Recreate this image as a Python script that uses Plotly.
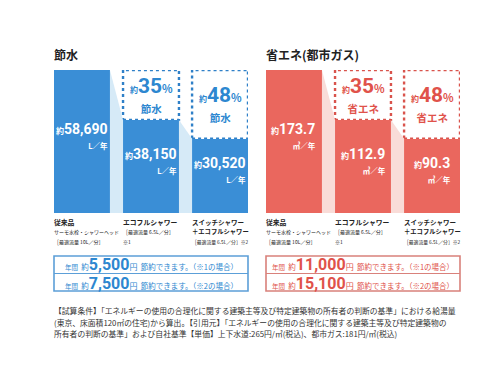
import plotly.graph_objects as go

W, H = 500, 375
FONT = "Noto Sans CJK JP"
NUMFONT = "Roboto"

# ---------------- data ----------------
categories = ["従来品", "エコフルシャワー", "スイッチシャワー＋エコフルシャワー"]
water_values = [58690, 38150, 30520]          # L/年
gas_values = [173.7, 112.9, 90.3]             # ㎥/年
saving_pct = [None, 35, 48]                   # %
water_title = "節水"
gas_title = "省エネ(都市ガス)"
water_unit = "L／年"
gas_unit = "㎥／年"
water_word = "節水"
gas_word = "省エネ"

cat_lines = [
    ["従来品", "サーモ水栓・シャワーヘッド", "［最適流量 10L／分］"],
    ["エコフルシャワー", "［最適流量 6.5L／分］", "※1"],
    ["スイッチシャワー", "＋エコフルシャワー", "［最適流量 6.5L／分］※2"],
]
water_yen = ["5,500", "7,500"]
gas_yen = ["11,000", "15,100"]
case_notes = ["※1", "※2"]

footer_lines = [
    "【試算条件】「エネルギーの使用の合理化に関する建築主等及び特定建築物の所有者の判断の基準」における給湯量",
    "(東京、床面積120㎡の住宅)から算出。【引用元】「エネルギーの使用の合理化に関する建築主等及び特定建築物の",
    "所有者の判断の基準」および自社基準【単価】上下水道:265円/㎥(税込)、都市ガス:181円/㎥(税込)",
]

# ---------------- styling ----------------
BAR_W = 0.81
cat_styles = [
    [(6.8, True), (5.0, False), (5.0, False)],
    [(6.8, True), (5.0, False), (5.0, False)],
    [(6.5, True), (6.3, True), (4.8, False)],
]

panels = [
    dict(values=water_values, title=water_title, unit=water_unit, word=water_word,
         yen=water_yen, fmt=lambda v: f"{v:,}", left=46, right=240,
         bar="#3a8ed6", pale="#d6eaf7", dot="#2f80c8", txt="#2d87d0",
         box="#5c9fd8", xa="x", ya="y"),
    dict(values=gas_values, title=gas_title, unit=gas_unit, word=gas_word,
         yen=gas_yen, fmt=lambda v: f"{v}", left=258, right=452,
         bar="#ea675e", pale="#f9dcd8", dot="#d9534c", txt="#e0524a",
         box="#d9817b", xa="x2", ya="y2"),
]

BAR_TOP_PX, BAR_BOT_PX = 62, 205


def pxx(x):
    return x / W


def pxy(y):
    return 1 - y / H


def sp(text, size, bold=False, num=False):
    fam = f"font-family:{NUMFONT};" if num else ""
    s = f'<span style="{fam}font-size:{size}px">{text}</span>'
    return f"<b>{s}</b>" if bold else s


fig = go.Figure()
annotations = []
shapes = []

for p in panels:
    vals = p["values"]
    idx = list(range(len(vals)))
    xa, ya = p["xa"], p["ya"]
    # connectors
    for i in range(len(vals) - 1):
        fig.add_trace(go.Scatter(
            x=[i + BAR_W / 2, i + 1 - BAR_W / 2, i + 1 - BAR_W / 2, i + BAR_W / 2],
            y=[vals[i], vals[i + 1], 0, 0],
            fill="toself", fillcolor=p["pale"], mode="lines",
            line=dict(width=0, color=p["pale"]), hoverinfo="skip",
            showlegend=False, xaxis=xa, yaxis=ya))
    # bars
    fig.add_trace(go.Bar(x=idx, y=vals, width=BAR_W, marker=dict(color=p["bar"], line=dict(width=0)),
                         showlegend=False, xaxis=xa, yaxis=ya, hoverinfo="skip"))
    # dotted saving boxes
    for i in idx:
        if saving_pct[i] is None:
            continue
        shapes.append(dict(type="rect", xref=xa, yref=ya, x0=i - BAR_W / 2, x1=i + BAR_W / 2,
                           y0=vals[i], y1=vals[0], fillcolor="white", layer="below",
                           line=dict(color=p["dot"], width=2.4, dash="dot")))
        mid = (vals[i] + vals[0]) / 2
        annotations.append(dict(
            xref=xa, yref=ya, x=i, y=mid, yshift=0, showarrow=False, align="center",
            text=(sp("約", 8, True) + sp(str(saving_pct[i]), 21, True, True) + sp("%", 11, True)
                  + "<br>" + sp(p["word"], 10.5, True)),
            font=dict(family=FONT, size=15, color=p["txt"])))
    # value labels
    for i in idx:
        annotations.append(dict(
            xref=xa, yref=ya, x=i, y=vals[i] / 2, yshift=6, showarrow=False, align="right",
            text=(sp("約", 8, True) + sp(p["fmt"](vals[i]), 14, True, True)
                  + "<br>" + sp(p["unit"], 7.5, True)),
            font=dict(family=FONT, size=11.4, color="white")))
    # category labels
    for i in idx:
        text = "<br>".join(sp(line, *cat_styles[i][j]) for j, line in enumerate(cat_lines[i]))
        annotations.append(dict(
            xref=xa, yref=ya, x=i - BAR_W / 2, xanchor="left", xshift=-2, y=0, yanchor="top",
            yshift=-2, showarrow=False, align="left", text=text,
            font=dict(family=FONT, size=7.3, color="#222")))
    # title
    annotations.append(dict(
        xref="paper", yref="paper", x=pxx(p["left"]), y=pxy(46), xanchor="left", yanchor="middle",
        showarrow=False, text=f"<b>{p['title']}</b>", xshift=-2,
        font=dict(family=FONT, size=12, color="#222")))
    # savings box
    top, mid_line, bot = 248, 265.5, 283
    shapes.append(dict(type="rect", xref="paper", yref="paper",
                       x0=pxx(p["left"]), x1=pxx(p["right"]), y0=pxy(bot), y1=pxy(top),
                       line=dict(color=p["box"], width=1.6), fillcolor="white"))
    shapes.append(dict(type="line", xref="paper", yref="paper",
                       x0=pxx(p["left"]), x1=pxx(p["right"]), y0=pxy(mid_line), y1=pxy(mid_line),
                       line=dict(color=p["box"], width=1.2)))
    rows = []
    for k, yen in enumerate(p["yen"]):
        rows.append(sp("年間", 6.5) + " " + sp("約", 7.5) + sp(yen, 16, True, True) + sp("円", 8)
                    + " " + sp(f"節約できます。（{case_notes[k]}の場合）", 7.5))
    annotations.append(dict(
        xref="paper", yref="paper", x=pxx((p["left"] + p["right"]) / 2), y=pxy((top + bot) / 2),
        xanchor="center", yanchor="middle", showarrow=False, align="center", yshift=1,
        text="<br>".join(rows), font=dict(family=FONT, size=14.6, color=p["txt"])))

# footer
annotations.append(dict(
    xref="paper", yref="paper", x=pxx(46), y=pxy(295), xanchor="left", xshift=-2,
    yanchor="top", showarrow=False, align="left",
    text="<br>".join(sp(l, 7.8) for l in footer_lines),
    font=dict(family=FONT, size=8.9, color="#333")))

ydom = [pxy(BAR_BOT_PX), pxy(BAR_TOP_PX)]
xrange_ = [-BAR_W / 2, len(categories) - 1 + BAR_W / 2]
axis_common = dict(showgrid=False, zeroline=False, showticklabels=False, ticks="", showline=False)

fig.update_layout(
    width=W, height=H, margin=dict(l=0, r=0, t=0, b=0),
    paper_bgcolor="white", plot_bgcolor="rgba(0,0,0,0)",
    showlegend=False,
    xaxis=dict(domain=[pxx(46), pxx(240)], range=xrange_, anchor="y", **axis_common),
    yaxis=dict(domain=ydom, range=[0, water_values[0]], anchor="x", **axis_common),
    xaxis2=dict(domain=[pxx(258), pxx(452)], range=xrange_, anchor="y2", **axis_common),
    yaxis2=dict(domain=ydom, range=[0, gas_values[0]], anchor="x2", **axis_common),
    annotations=annotations, shapes=shapes, bargap=0,
)

fig.write_html("out.html")
